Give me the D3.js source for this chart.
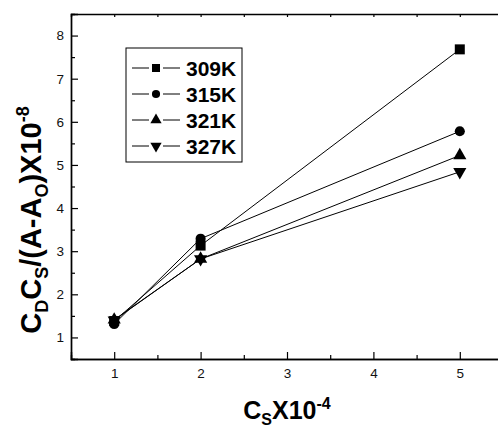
<!DOCTYPE html>
<html>
<head>
<meta charset="utf-8">
<script src="https://cdn.jsdelivr.net/npm/d3@7"></script>
<style>
  body { margin: 0; background: #fff; }
  svg { display: block; font-family: Arial, "Liberation Sans", sans-serif; }
</style>
</head>
<body>
<div id="chart"></div>
<script>
// data
const cs = [1, 2, 5];
const seriesNames = ["309K", "315K", "321K", "327K"];
const v309 = [1.38, 3.13, 7.68];
const v315 = [1.31, 3.29, 5.78];
const v321 = [1.41, 2.82, 5.22];
const v327 = [1.40, 2.82, 4.84];
const xTicks = [1, 2, 3, 4, 5];
const yTicks = [1, 2, 3, 4, 5, 6, 7, 8];

const allSeries = [v309, v315, v321, v327];
const symbols = [d3.symbolSquare, d3.symbolCircle, d3.symbolTriangle, d3.symbolTriangle];
const rotations = [0, 0, 0, 180];
const plotSizes = [100, 80, 75, 75];
const legendSizes = [64, 52, 55, 55];

const width = 498, height = 428;
const margin = { left: 71, top: 14, bottom: 69 };

const svg = d3.select("#chart")
    .append("svg")
    .attr("width", width)
    .attr("height", height);

const x = d3.scaleLinear().domain([0.5, 5.5]).range([margin.left, margin.left + 5 * 86.4]);
const y = d3.scaleLinear().domain([0.5, 8.5]).range([height - margin.bottom, margin.top]);

const halves = d3.range(1.5, 5.5, 1);
const yHalves = d3.range(0.5, 8.5, 1).slice(1);

// bottom axis
const bottom = svg.append("g")
    .attr("transform", `translate(0,${y(0.5)})`)
    .call(d3.axisBottom(x).tickValues(xTicks).tickSize(-7).tickPadding(9).tickFormat(d3.format("d")));
bottom.append("g")
    .call(d3.axisBottom(x).tickValues(halves).tickSize(-4).tickFormat(""));

// left axis
const left = svg.append("g")
    .attr("transform", `translate(${x(0.5)},0)`)
    .call(d3.axisLeft(y).tickValues(yTicks).tickSize(-7).tickPadding(7).tickFormat(d3.format("d")));
left.append("g")
    .call(d3.axisLeft(y).tickValues(yHalves).tickSize(-4).tickFormat(""));

// top axis, ticks only
svg.append("g")
    .attr("transform", `translate(0,${y(8.5)})`)
    .call(d3.axisTop(x).tickValues(d3.range(1, 5.5, 0.5)).tickSize(-3).tickFormat(""));

svg.selectAll(".domain").attr("stroke-width", 1.4);
svg.selectAll(".tick line").attr("stroke-width", 1.2);
svg.selectAll(".tick text").style("font-size", "13.5px").attr("fill", "#111");

// lines
const line = d3.line().x((d, i) => x(cs[i])).y((d) => y(d));
allSeries.forEach((vals, k) => {
    svg.append("path")
        .attr("d", line(vals))
        .attr("fill", "none")
        .attr("stroke", "#000")
        .attr("stroke-width", 1);
});

// markers
allSeries.forEach((vals, k) => {
    svg.selectAll(null)
        .data(vals)
        .enter()
        .append("path")
        .attr("d", d3.symbol(symbols[k], plotSizes[k]))
        .attr("transform", (d, i) => `translate(${x(cs[i])},${y(d)}) rotate(${rotations[k]})`)
        .attr("fill", "#000");
});

// legend
const legend = svg.append("g");
legend.append("rect")
    .attr("x", 126).attr("y", 48)
    .attr("width", 116).attr("height", 114)
    .attr("fill", "#fff")
    .attr("stroke", "#000")
    .attr("stroke-width", 1);

seriesNames.forEach((name, k) => {
    const ly = 68 + k * 26;
    legend.append("line").attr("x1", 132).attr("x2", 149).attr("y1", ly).attr("y2", ly)
        .attr("stroke", "#000").attr("stroke-width", 1);
    legend.append("line").attr("x1", 163).attr("x2", 180).attr("y1", ly).attr("y2", ly)
        .attr("stroke", "#000").attr("stroke-width", 1);
    legend.append("path")
        .attr("d", d3.symbol(symbols[k], legendSizes[k]))
        .attr("transform", `translate(156,${ly}) rotate(${rotations[k]})`)
        .attr("fill", "#000");
    legend.append("text")
        .attr("x", 186).attr("y", ly + 7.5)
        .attr("font-size", 21).attr("font-weight", "bold")
        .text(name);
});

// x title
const xt = svg.append("text")
    .attr("x", 287).attr("y", 419)
    .attr("text-anchor", "middle")
    .attr("font-size", 25).attr("font-weight", "bold");
xt.append("tspan").text("C");
xt.append("tspan").attr("font-size", 16).attr("dy", 6).text("S");
xt.append("tspan").attr("dy", -6).text("X10");
xt.append("tspan").attr("font-size", 16).attr("dy", -10).text("-4");

// y title
const yt = svg.append("text")
    .attr("transform", "translate(41,220) rotate(-90)")
    .attr("text-anchor", "middle")
    .attr("font-size", 29).attr("font-weight", "bold");
yt.append("tspan").text("C");
yt.append("tspan").attr("font-size", 18).attr("dy", 7).text("D");
yt.append("tspan").attr("dy", -7).text("C");
yt.append("tspan").attr("font-size", 18).attr("dy", 7).text("S");
yt.append("tspan").attr("dy", -7).text("/(A-A");
yt.append("tspan").attr("font-size", 18).attr("dy", 7).text("O");
yt.append("tspan").attr("dy", -7).text(")X10");
yt.append("tspan").attr("font-size", 18).attr("dy", -12).text("-8");
</script>
</body>
</html>
